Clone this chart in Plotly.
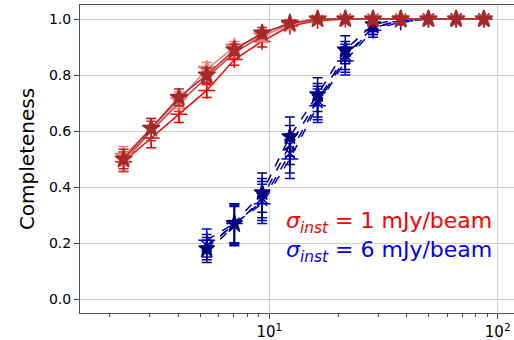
import plotly.graph_objects as go

# bin centres (mJy)
x_vals = [2.30, 3.04, 4.02, 5.32, 7.03, 9.30, 12.30, 16.27, 21.51, 28.44, 37.61, 49.74, 65.77, 86.98]

# sigma_inst = 1 mJy/beam (solid, red shades)
red_a = [0.50, 0.61, 0.72, 0.80, 0.89, 0.95, 0.985, 1.0, 1.0, 1.0, 1.0, 1.0, 1.0, 1.0]
red_b = [0.51, 0.61, 0.71, 0.82, 0.90, 0.94, 0.98, 1.0, 1.0, 1.0, 1.0, 1.0, 1.0, 1.0]
red_c = [0.49, 0.60, 0.70, 0.79, 0.88, 0.94, 0.98, 0.995, 1.0, 1.0, 1.0, 1.0, 1.0, 1.0]
red_d = [0.49, 0.575, 0.66, 0.745, 0.855, 0.92, 0.975, 0.995, 1.0, 1.0, 1.0, 1.0, 1.0, 1.0]
red_err = [0.035, 0.035, 0.03, 0.025, 0.02, 0.02, 0.01, 0.005, 0.0, 0.0, 0.0, 0.0, 0.0, 0.0]

# sigma_inst = 6 mJy/beam (dashed, blue shades), starts at 4th bin
x_blue = x_vals[3:]
blue_a = [0.18, 0.27, 0.38, 0.58, 0.73, 0.89, 0.98, 1.0, 1.0, 1.0, 1.0]
blue_b = [0.17, 0.26, 0.36, 0.55, 0.71, 0.87, 0.97, 0.99, 1.0, 1.0, 1.0]
blue_c = [0.21, 0.27, 0.34, 0.50, 0.69, 0.85, 0.96, 0.99, 1.0, 1.0, 1.0]
blue_d = [0.19, 0.265, 0.35, 0.52, 0.70, 0.86, 0.97, 0.995, 1.0, 1.0, 1.0]
blue_err = [0.04, 0.07, 0.07, 0.07, 0.06, 0.05, 0.025, 0.01, 0.0, 0.0, 0.0]

fig = go.Figure()

def add(xs, ys, err, color, symbol, size, dash):
    fig.add_trace(go.Scatter(
        x=xs, y=ys, mode="lines+markers",
        line=dict(color=color, width=1.5, dash=dash),
        marker=dict(symbol=symbol, size=size, color=color,
                    line=dict(color=color, width=1.5)),
        error_y=dict(type="data", array=err, visible=True, color=color,
                     thickness=1.5, width=5),
        showlegend=False))

add(x_blue, blue_c, blue_err, "#0000ff", "cross-thin", 12, "dash")
add(x_blue, blue_d, blue_err, "#0000cd", "x-thin", 10, "dash")
add(x_blue, blue_b, blue_err, "#00008b", "x-thin", 11, "dash")
add(x_blue, blue_a, blue_err, "#000080", "star", 12, "dash")

add(x_vals, red_d, red_err, "#ff0000", "cross-thin", 12, "solid")
add(x_vals, red_c, red_err, "#e03030", "x-thin", 11, "solid")
add(x_vals, red_b, red_err, "#f08080", "star", 13, "solid")
add(x_vals, red_a, red_err, "#a52a2a", "star", 13, "solid")

fig.add_annotation(x=0.953, y=0.272, xref="paper", yref="y",
                   text="<i>σ<sub>inst</sub></i> = 1 mJy/beam", showarrow=False,
                   xanchor="right", yanchor="middle",
                   font=dict(family="DejaVu Sans", size=22, color="#ff0000"))
fig.add_annotation(x=0.953, y=0.17, xref="paper", yref="y",
                   text="<i>σ<sub>inst</sub></i> = 6 mJy/beam", showarrow=False,
                   xanchor="right", yanchor="middle",
                   font=dict(family="DejaVu Sans", size=22, color="#0000ff"))

fig.update_layout(
    width=514, height=340,
    margin=dict(l=80, r=0, t=5, b=27),
    plot_bgcolor="white", paper_bgcolor="white",
    font=dict(family="DejaVu Sans", color="black"),
    xaxis=dict(type="log", range=[0.171, 2.0714],
               tickvals=[10, 100], ticktext=["10<sup>1</sup>", "10<sup>2</sup>"],
               ticks="outside", ticklen=5, tickcolor="#444",
               tickfont=dict(size=15),
               showgrid=True, gridcolor="#d0d0d0", gridwidth=1,
               showline=True, linecolor="#555", linewidth=1, mirror=True,
               zeroline=False,
               minor=dict(ticks="outside", ticklen=3, tickcolor="#444",
                          tickvals=[2, 3, 4, 5, 6, 7, 8, 9, 20, 30, 40, 50, 60, 70, 80, 90],
                          showgrid=False)),
    yaxis=dict(range=[-0.05, 1.05],
               tickvals=[0, 0.2, 0.4, 0.6, 0.8, 1.0],
               ticktext=["0.0", "0.2", "0.4", "0.6", "0.8", "1.0"],
               ticks="outside", ticklen=5, tickcolor="#444",
               tickfont=dict(size=14),
               title=dict(text="Completeness", font=dict(size=20), standoff=8),
               showgrid=True, gridcolor="#d0d0d0", gridwidth=1,
               showline=True, linecolor="#555", linewidth=1, mirror=False,
               zeroline=False),
)

fig.write_html("out.html")
